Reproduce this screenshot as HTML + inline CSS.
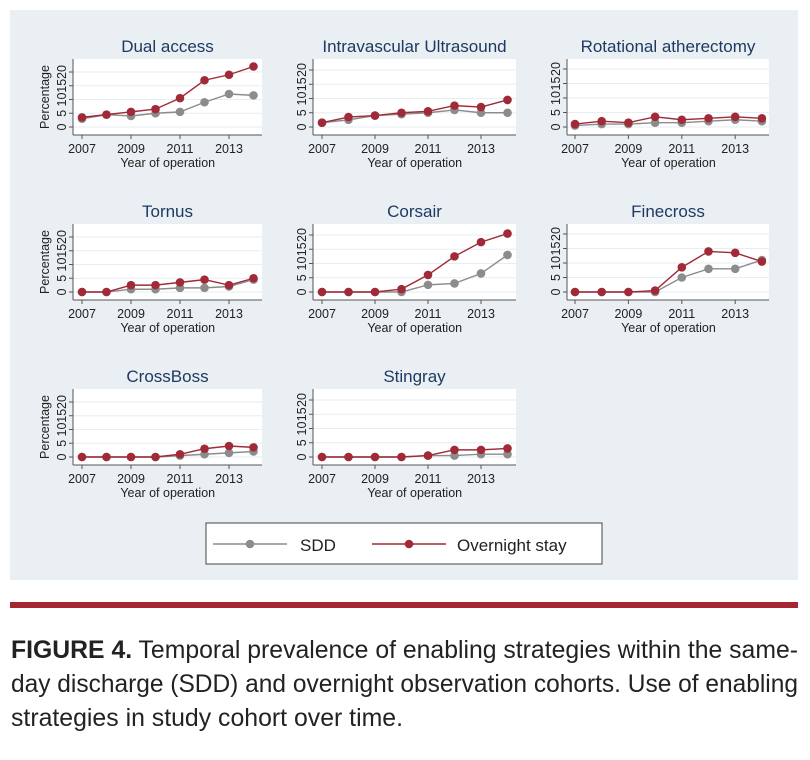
<!DOCTYPE html>
<html><head><meta charset="utf-8">
<style>
html,body{margin:0;padding:0;background:#fff;}
body{width:810px;height:760px;position:relative;overflow:hidden;font-family:"Liberation Sans",sans-serif;}
#bg{position:absolute;left:10px;top:10px;width:788px;height:570px;background:#e9eff2;}
#rule{position:absolute;left:10px;top:602px;width:788px;height:6px;background:#a82633;}
</style></head><body>
<div id="bg"></div>
<svg id="chart" width="810" height="600" style="position:absolute;left:0;top:0"></svg>
<div id="rule"></div>
<svg width="810" height="150" style="position:absolute;left:0;top:610px" font-family="Liberation Sans, sans-serif" font-size="25" fill="#222">
<text x="11" y="48" textLength="787" lengthAdjust="spacingAndGlyphs"><tspan font-weight="bold">FIGURE 4.</tspan> Temporal prevalence of enabling strategies within the same-</text>
<text x="11" y="82" textLength="787" lengthAdjust="spacingAndGlyphs">day discharge (SDD) and overnight observation cohorts. Use of enabling</text>
<text x="11" y="116" textLength="392" lengthAdjust="spacingAndGlyphs">strategies in study cohort over time.</text>
</svg>
<script>
const years=[2007,2008,2009,2010,2011,2012,2013,2014];
const panelTitles=["Dual access","Intravascular Ultrasound","Rotational atherectomy","Tornus","Corsair","Finecross","CrossBoss","Stingray"];
const sddDual=[3,4.5,4,5,5.5,9,12,11.5];
const onDual=[3.5,4.5,5.5,6.5,10.5,17,19,22];
const sddIvus=[1.5,2.5,4,4.5,5,6,5,5];
const onIvus=[1.5,3.5,4,5,5.5,7.5,7,9.5];
const sddRot=[0.5,1,1,1.5,1.5,2,2.5,2];
const onRot=[1,2,1.5,3.5,2.5,3,3.5,3];
const sddTornus=[0,0,1,1,1.5,1.5,2,4.5];
const onTornus=[0,0,2.5,2.5,3.5,4.5,2.5,5];
const sddCorsair=[0,0,0,0,2.5,3,6.5,13];
const onCorsair=[0,0,0,1,6,12.5,17.5,20.5];
const sddFinecross=[0,0,0,0,5,8,8,11];
const onFinecross=[0,0,0,0.5,8.5,14,13.5,10.5];
const sddCrossboss=[0,0,0,0,0.5,1,1.5,2];
const onCrossboss=[0,0,0,0,1,3,4,3.5];
const sddStingray=[0,0,0,0,0.5,0.5,1,1];
const onStingray=[0,0,0,0,0.5,2.5,2.5,3];
const yTicks=[0,5,10,15,20];
const xTickLabels=[2007,2009,2011,2013];
const sddSeries=[sddDual,sddIvus,sddRot,sddTornus,sddCorsair,sddFinecross,sddCrossboss,sddStingray];
const onSeries=[onDual,onIvus,onRot,onTornus,onCorsair,onFinecross,onCrossboss,onStingray];

const NS="http://www.w3.org/2000/svg";
const svg=document.getElementById('chart');
function mk(tag,attrs,parent){const e=document.createElementNS(NS,tag);for(const k in attrs)e.setAttribute(k,attrs[k]);(parent||svg).appendChild(e);return e;}
const cols=[{ax:73,x0:82,px:24.5,right:262,ppu:2.75},{ax:313,x0:322,px:26.5,right:516,ppu:2.85},{ax:567,x0:575,px:26.7,right:769,ppu:2.9}];
const rowDy=[0,165,330];
const SDDC="#8c8c8c",ONC="#a02a37";

panelTitles.forEach((title,i)=>{
  const c=cols[i%3],dy=rowDy[Math.floor(i/3)];
  const g=mk('g',{});
  
  
  const zeroY=127+dy,top=59+dy,bottom=135+dy;
  const X=y=>c.x0+(y-2007)*c.px;
  const Y=v=>zeroY-v*c.ppu;
  const bg=mk('rect',{x:c.ax,y:top,width:c.right-c.ax,height:bottom-top,fill:'#fff'},g);
  
  
  yTicks.forEach(t=>{
    mk('line',{x1:c.ax,x2:c.right,y1:Y(t),y2:Y(t),stroke:'#e6eef2','stroke-width':1},g);
    mk('line',{x1:c.ax-4,x2:c.ax,y1:Y(t),y2:Y(t),stroke:'#555','stroke-width':1},g);
    const tl=mk('text',{x:c.ax-7,y:Y(t),transform:`rotate(-90 ${c.ax-7} ${Y(t)})`,'text-anchor':'middle','font-size':12.5,fill:'#222'},g);
    tl.textContent=t;
    
    
  });
  mk('line',{x1:c.ax,x2:c.ax,y1:top,y2:bottom,stroke:'#555'},g);
  mk('line',{x1:c.ax,x2:c.right,y1:bottom,y2:bottom,stroke:'#555'},g);
  xTickLabels.forEach(t=>{
    mk('line',{x1:X(t),x2:X(t),y1:bottom,y2:bottom+4,stroke:'#555'},g);
    const tl=mk('text',{x:X(t),y:bottom+18,'text-anchor':'middle','font-size':12.5,fill:'#222'},g);
    tl.textContent=t;
    
    
  });
  const xt=mk('text',{x:(X(2007)+X(2014))/2,y:bottom+32,'text-anchor':'middle','font-size':12.5,fill:'#222'},g);
  xt.textContent='Year of operation';
  
  
  if(i%3===0){
    const yt=mk('text',{x:49,y:(top+bottom)/2,transform:`rotate(-90 49 ${(top+bottom)/2})`,'text-anchor':'middle','font-size':12.5,fill:'#222'},g);
    yt.textContent='Percentage';
    
    
  }
  const tt=mk('text',{x:(c.ax+c.right)/2,y:52+dy,'text-anchor':'middle','font-size':17,fill:'#1e3a63'},g);
  tt.textContent=title;
  
  
  [[sddSeries[i],SDDC,'sdd'],[onSeries[i],ONC,'overnight']].forEach(([vals,col,nm])=>{
    const pl=mk('polyline',{points:vals.map((v,k)=>X(years[k])+','+Y(v)).join(' '),fill:'none',stroke:col,'stroke-width':1.4},g);
    
    
    vals.forEach((v,k)=>{
      const p=mk('circle',{cx:X(years[k]),cy:Y(v),r:4.3,fill:col},g);
      
      
    });
  });
});
const lg=mk('g',{});


mk('rect',{x:206,y:523,width:396,height:41,fill:'#fff',stroke:'#444','stroke-width':1},lg);
mk('line',{x1:213,x2:287,y1:544,y2:544,stroke:SDDC,'stroke-width':1.4},lg);
mk('circle',{cx:250,cy:544,r:4.3,fill:SDDC},lg);
const l1=mk('text',{x:300,y:551,'font-size':17,fill:'#222'},lg);l1.textContent='SDD';


mk('line',{x1:372,x2:446,y1:544,y2:544,stroke:ONC,'stroke-width':1.4},lg);
mk('circle',{cx:409,cy:544,r:4.3,fill:ONC},lg);
const l2=mk('text',{x:457,y:551,'font-size':17,fill:'#222'},lg);l2.textContent='Overnight stay';


</script>
</body></html>
